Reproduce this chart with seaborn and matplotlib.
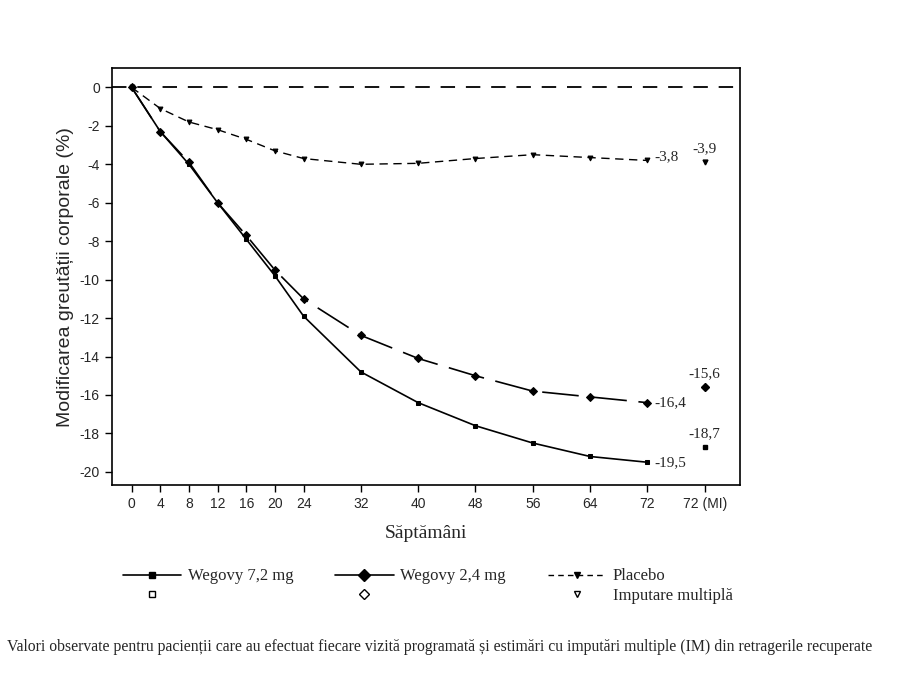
import matplotlib
matplotlib.use('Agg')
import matplotlib.pyplot as plt
import matplotlib.lines as mlines
import seaborn as sns
import pandas as pd

weeks = [0, 4, 8, 12, 16, 20, 24, 32, 40, 48, 56, 64, 72]
wegovy72 = [0, -2.3, -4.0, -6.0, -7.9, -9.8, -11.9, -14.8, -16.4, -17.6, -18.5, -19.2, -19.5]
wegovy24 = [0, -2.3, -3.9, -6.0, -7.7, -9.5, -11.0, -12.9, -14.1, -15.0, -15.8, -16.1, -16.4]
placebo = [0, -1.1, -1.8, -2.2, -2.7, -3.3, -3.7, -4.0, -3.95, -3.7, -3.5, -3.65, -3.8]
mi_week = 80
mi_vals = [-18.7, -15.6, -3.9]
tick_labels = ['0', '4', '8', '12', '16', '20', '24', '32', '40', '48', '56', '64', '72', '72 (MI)']

sns.set_style('ticks')
plt.rcParams['font.family'] = ['Liberation Sans', 'DejaVu Sans']
serif = ['Liberation Serif', 'DejaVu Serif']

fig = plt.figure(figsize=(9, 6.75), dpi=100)
ax = fig.add_axes([0.124, 0.281, 0.698, 0.618])

df = pd.DataFrame({'week': weeks, 'w72': wegovy72, 'w24': wegovy24, 'pl': placebo})
ax.axhline(0, color='black', lw=1.3, dashes=(8, 6))
sns.lineplot(data=df, x='week', y='w72', ax=ax, color='black', lw=1.2, marker='s', markersize=3.5, markeredgecolor='black')
sns.lineplot(data=df, x='week', y='w24', ax=ax, color='black', lw=1.2, marker='D', markersize=4, markeredgecolor='black')
sns.lineplot(data=df, x='week', y='pl', ax=ax, color='black', lw=1.0, marker='v', markersize=3.5, markeredgecolor='black')
lines = ax.get_lines()
lines[2].set_dashes((22, 7))
lines[3].set_dashes((6, 4))
for v, m, ms in zip(mi_vals, ['s', 'D', 'v'], [3.5, 4.5, 3.5]):
    ax.plot(mi_week, v, marker=m, color='black', markersize=ms, linestyle='none')

ax.text(73, wegovy72[-1], '-19,5', family=serif, fontsize=11, va='center')
ax.text(73, wegovy24[-1], '-16,4', family=serif, fontsize=11, va='center')
ax.text(73, placebo[-1] + 0.2, '-3,8', family=serif, fontsize=11, va='center')
ax.text(mi_week, mi_vals[0] + 0.7, '-18,7', family=serif, fontsize=11, ha='center', va='center')
ax.text(mi_week, mi_vals[1] + 0.7, '-15,6', family=serif, fontsize=11, ha='center', va='center')
ax.text(mi_week, mi_vals[2] + 0.7, '-3,9', family=serif, fontsize=11, ha='center', va='center')

ax.set_xlim(-2.8, 84.9)
ax.set_ylim(-20.7, 1.0)
ax.set_xticks(weeks + [mi_week])
ax.set_xticklabels(tick_labels, fontsize=10)
ax.set_yticks(range(-20, 1, 2))
ax.set_yticklabels([str(v) for v in range(-20, 1, 2)], fontsize=10)
ax.tick_params(length=5, width=1, color='black', direction='out')
ax.set_xlabel('Săptămâni', family=serif, fontsize=14, labelpad=10)
ax.set_ylabel('Modificarea greutății corporale (%)', fontsize=14)
for s in ax.spines.values():
    s.set_linewidth(1.2)
    s.set_color('black')

h1 = mlines.Line2D([], [], color='black', marker='s', markersize=5, lw=1.2)
h2 = mlines.Line2D([], [], color='black', marker='D', markersize=6, lw=1.2)
h3 = mlines.Line2D([], [], color='black', marker='v', markersize=5, lw=1.0, linestyle='--', dashes=(4, 3))
o1 = mlines.Line2D([], [], color='black', marker='s', markersize=5, mfc='white', linestyle='none')
o2 = mlines.Line2D([], [], color='black', marker='D', markersize=5, mfc='white', linestyle='none')
o3 = mlines.Line2D([], [], color='black', marker='v', markersize=5, mfc='white', linestyle='none')
fig.legend([h1, o1, h2, o2, h3, o3], ['Wegovy 7,2 mg', ' ', 'Wegovy 2,4 mg', ' ', 'Placebo', 'Imputare multiplă'],
           ncol=3, loc='upper left', bbox_to_anchor=(0.12, 0.18), frameon=False,
           prop={'family': serif, 'size': 12}, handlelength=3.5, handletextpad=0.4,
           columnspacing=2.5, labelspacing=0.2)

fig.text(0.008, 0.035, 'Valori observate pentru pacienții care au efectuat fiecare vizită programată și estimări cu imputări multiple (IM) din retragerile recuperate',
         family=serif, fontsize=11.3)
fig.savefig('out.png', dpi=100)
